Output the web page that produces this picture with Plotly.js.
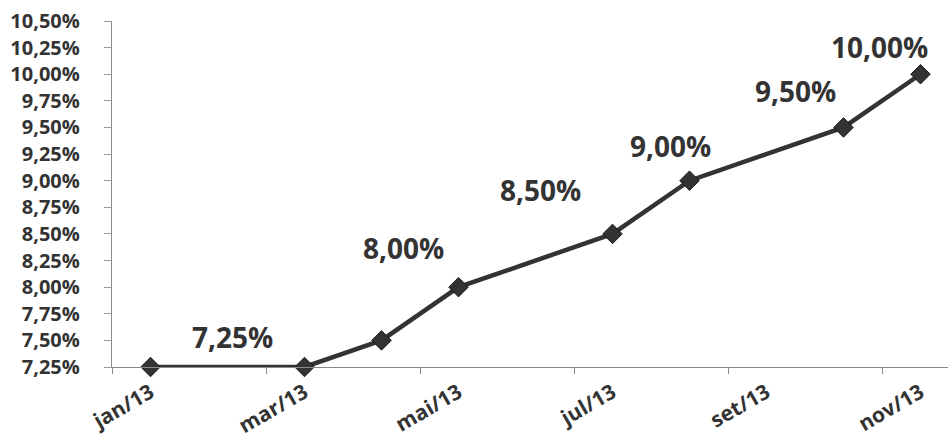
<!DOCTYPE html>
<html>
<head>
<meta charset="utf-8">
<script src="https://cdn.plot.ly/plotly-3.0.1.min.js"></script>
<style>html,body{margin:0;padding:0;background:#fff;}#chart{width:948px;height:446px;}</style>
</head>
<body>
<div id="chart"></div>
<script>
// Months on the axis (one category per month)
var months = ['jan/13','fev/13','mar/13','abr/13','mai/13','jun/13','jul/13','ago/13','set/13','out/13','nov/13'];
// Observed points
var pointMonths = ['jan/13','mar/13','abr/13','mai/13','jul/13','ago/13','out/13','nov/13'];
var rates = [7.25, 7.25, 7.50, 8.00, 8.50, 9.00, 9.50, 10.00];
// Labelled values
var labelTexts = ['7,25%','8,00%','8,50%','9,00%','9,50%','10,00%'];
// Axis tick labels
var yTickVals = [7.25,7.5,7.75,8,8.25,8.5,8.75,9,9.25,9.5,9.75,10,10.25,10.5];
var xTickMonths = ['jan/13','mar/13','mai/13','jul/13','set/13','nov/13'];

// Layout-only placement of the text labels (month index, rate level)
var labelPos = [[1.06,7.53],[3.29,8.37],[5.06,8.91],[6.75,9.33],[8.38,9.84],[9.47,10.26]];

function fmt(v){ return v.toFixed(2).replace('.', ',') + '%'; }
var xIdx = pointMonths.map(function(m){ return months.indexOf(m); });
var xTickIdx = xTickMonths.map(function(m){ return months.indexOf(m); });
var boundaries = [];
for (var i = 0; i < months.length; i += 2) boundaries.push(i - 0.5);

var fontFam = 'Open Sans, Lato, sans-serif';

var trace = {
  x: xIdx, y: rates, type: 'scatter', mode: 'lines+markers',
  line: {color: '#333333', width: 4.5},
  marker: {symbol: 'diamond', size: 15, color: '#333333', line: {color: '#1a1a1a', width: 1}},
  hoverinfo: 'skip', cliponaxis: false
};

var annotations = labelTexts.map(function(t, k){
  return {x: labelPos[k][0], y: labelPos[k][1], xref: 'x', yref: 'y', text: t, showarrow: false,
    font: {family: fontFam, size: 28, color: '#333333', weight: 'bold'}};
});

var layout = {
  width: 948, height: 446,
  margin: {l: 112, r: 0, t: 21, b: 79},
  paper_bgcolor: '#ffffff', plot_bgcolor: '#ffffff',
  showlegend: false,
  xaxis: {
    range: [-0.5, 10.357], showgrid: false, zeroline: false,
    showline: true, linecolor: '#8a8a8a', linewidth: 1.2,
    tickmode: 'array', tickvals: xTickIdx, ticktext: xTickMonths,
    ticks: '', tickangle: -30,
    ticklabelstandoff: 4,
    tickfont: {family: fontFam, size: 21, color: '#333333', weight: 'bold'},
    minor: {tickmode: 'array', tickvals: boundaries, ticks: 'outside', ticklen: 6, tickcolor: '#8a8a8a', showgrid: false},
    fixedrange: true
  },
  yaxis: {
    range: [7.25, 10.5], showgrid: false, zeroline: false,
    showline: true, linecolor: '#8a8a8a', linewidth: 1.2,
    tickmode: 'array', tickvals: yTickVals, ticktext: yTickVals.map(fmt),
    ticks: 'outside', ticklen: 7, tickcolor: '#9a9a9a',
    ticklabelstandoff: 20,
    tickfont: {family: fontFam, size: 20, color: '#333333', weight: 'bold'},
    fixedrange: true
  },
  annotations: annotations
};

Plotly.newPlot('chart', [trace], layout, {displayModeBar: false, staticPlot: true});
</script>
</body>
</html>
